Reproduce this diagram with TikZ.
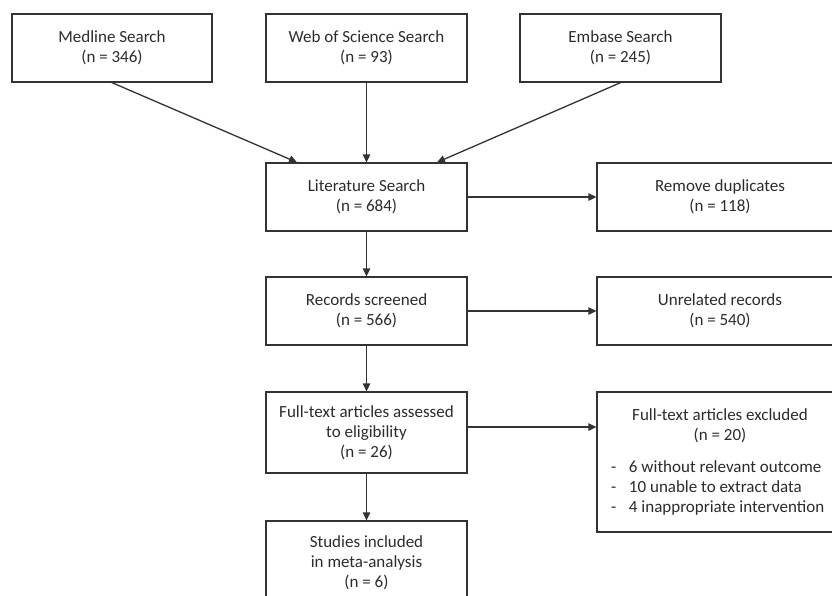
\documentclass[tikz,border=0pt]{standalone}
\usepackage{fontspec}
\setmainfont{Carlito}
\usetikzlibrary{arrows.meta}
\definecolor{ink}{HTML}{2B2B2B}
\definecolor{edge}{HTML}{333333}
\tikzset{
  box/.style={draw=edge, line width=1.3pt, rectangle, inner sep=0pt, align=center,
              text=ink, font=\fontsize{17}{20}\selectfont},
  arr/.style={draw=edge, line width=1.3pt, -{Triangle[length=8pt,width=7.5pt]}},
}
\begin{document}
\begin{tikzpicture}[x=1pt,y=-1pt]
\useasboundingbox (0,0) rectangle (832,595);
\clip (0,0) rectangle (832,595);
\node[box, minimum width=200pt, minimum height=68pt] (med) at (112,48) {Medline Search\\(n = 346)};
\node[box, minimum width=201pt, minimum height=68pt] (wos) at (366.5,48) {Web of Science Search\\(n = 93)};
\node[box, minimum width=201pt, minimum height=68pt] (emb) at (620.5,48) {Embase Search\\(n = 245)};
\node[box, minimum width=201pt, minimum height=68pt] (lit) at (366.5,197) {Literature Search\\(n = 684)};
\node[box, minimum width=246pt, minimum height=68pt] (dup) at (720,197) {Remove duplicates\\(n = 118)};
\node[box, minimum width=201pt, minimum height=68pt] (rec) at (366.5,311) {Records screened\\(n = 566)};
\node[box, minimum width=246pt, minimum height=68pt] (unr) at (720,311) {Unrelated records\\(n = 540)};
\node[box, minimum width=201pt, minimum height=81pt] (ft) at (366.5,432.5) {Full-text articles assessed\\to eligibility\\(n = 26)};
\node[box, minimum width=246pt, minimum height=140pt] (exc) at (720,462)
  {\parbox{218pt}{\centering Full-text articles excluded\\(n = 20)\par\vspace{12pt}\raggedright
   \makebox[18pt][l]{-}6 without relevant outcome\\
   \makebox[18pt][l]{-}10 unable to extract data\\
   \makebox[18pt][l]{-}4 inappropriate intervention}};
\node[box, minimum width=201pt, minimum height=84pt] (stu) at (366.5,563) {Studies included\\in meta-analysis\\(n = 6)};
\draw[arr] (med.south) -- ([xshift=-69.5pt]lit.north);
\draw[arr] (wos.south) -- (lit.north);
\draw[arr] (emb.south) -- ([xshift=70.5pt]lit.north);
\draw[arr] (lit.east) -- (dup.west);
\draw[arr] (lit.south) -- (rec.north);
\draw[arr] (rec.east) -- (unr.west);
\draw[arr] (rec.south) -- (ft.north);
\draw[arr] ([yshift=5.5pt]ft.east) -- ([yshift=35pt]exc.west);
\draw[arr] (ft.south) -- (stu.north);
\end{tikzpicture}
\end{document}
